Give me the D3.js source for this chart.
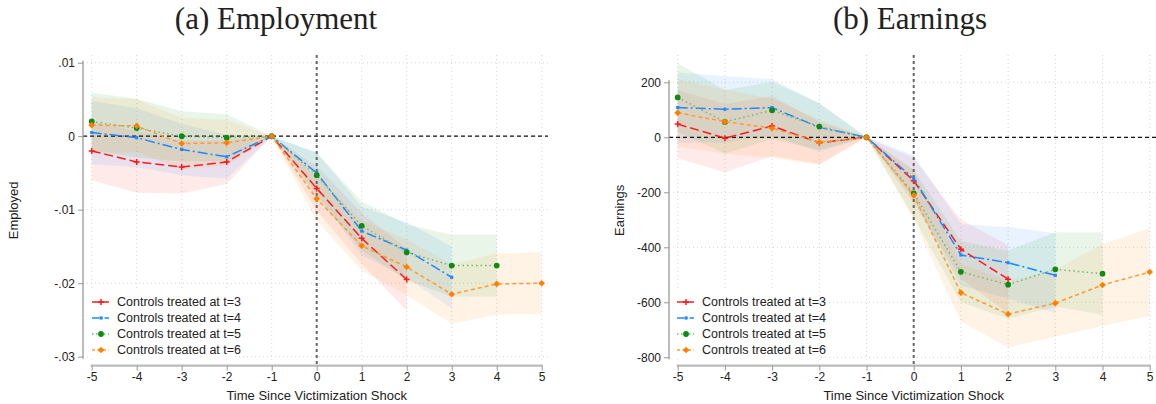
<!DOCTYPE html>
<html><head><meta charset="utf-8">
<script src="https://cdn.jsdelivr.net/npm/d3@7"></script>
<style>
body{margin:0;background:#fff;}
svg{display:block;}
text{font-family:"Liberation Sans",Arial,sans-serif;fill:#222;}
</style></head>
<body>
<svg id="chart" width="1156" height="404"></svg>
<script>
// ---------- data ----------
const years = [-5,-4,-3,-2,-1,0,1,2,3,4,5];
const seriesNames = ["Controls treated at t=3","Controls treated at t=4","Controls treated at t=5","Controls treated at t=6"];
const panelTitles = ["(a) Employment","(b) Earnings"];
const yTitles = ["Employed","Earnings"];
const xTitle = "Time Since Victimization Shock";
const xTickLabels = ["-5","-4","-3","-2","-1","0","1","2","3","4","5"];

const empTickValues = [0.01,0,-0.01,-0.02,-0.03];
const empTickLabels = [".01","0","-.01","-.02","-.03"];
const earnTickValues = [200,0,-200,-400,-600,-800];
const earnTickLabels = ["200","0","-200","-400","-600","-800"];

// Employment (estimate, lower CI, upper CI)
const empT3   = [-0.0020,-0.0035,-0.0042,-0.0035,0,-0.0071,-0.0139,-0.0195];
const empT3Lo = [-0.0060,-0.0077,-0.0078,-0.0065,0,-0.0101,-0.0174,-0.0237];
const empT3Hi = [ 0.0020, 0.0007,-0.0006,-0.0005,0,-0.0041,-0.0104,-0.0153];
const empT4   = [ 0.0005,-0.0002,-0.0018,-0.0028,0,-0.0050,-0.0129,-0.0155,-0.0192];
const empT4Lo = [-0.0038,-0.0042,-0.0053,-0.0058,0,-0.0078,-0.0162,-0.0193,-0.0234];
const empT4Hi = [ 0.0048, 0.0038, 0.0017, 0.0002,0,-0.0022,-0.0096,-0.0117,-0.0150];
const empT5   = [ 0.0020, 0.0011, 0.0000,-0.0002,0,-0.0053,-0.0122,-0.0158,-0.0176,-0.0176];
const empT5Lo = [-0.0019,-0.0029,-0.0034,-0.0034,0,-0.0083,-0.0155,-0.0196,-0.0218,-0.0218];
const empT5Hi = [ 0.0059, 0.0051, 0.0034, 0.0030,0,-0.0023,-0.0089,-0.0120,-0.0134,-0.0134];
const empT6   = [ 0.0015, 0.0014,-0.0010,-0.0009,0,-0.0085,-0.0149,-0.0178,-0.0215,-0.0201,-0.0200];
const empT6Lo = [-0.0023,-0.0022,-0.0045,-0.0040,0,-0.0115,-0.0183,-0.0216,-0.0255,-0.0243,-0.0242];
const empT6Hi = [ 0.0053, 0.0050, 0.0025, 0.0022,0,-0.0055,-0.0115,-0.0140,-0.0175,-0.0159,-0.0158];

// Earnings (estimate, lower CI, upper CI)
const earnT3   = [48,-3,41,-20,0,-158,-407,-516];
const earnT3Lo = [-76,-127,-68,-97,0,-240,-514,-640];
const earnT3Hi = [172,121,150,57,0,-76,-300,-392];
const earnT4   = [108,102,108,36,0,-150,-428,-456,-502];
const earnT4Lo = [-20,-19,5,-52,0,-225,-540,-586,-640];
const earnT4Hi = [236,223,211,124,0,-65,-316,-326,-349];
const earnT5   = [145,56,98,39,0,-204,-489,-536,-480,-496];
const earnT5Lo = [21,-60,-6,-46,0,-290,-600,-660,-615,-646];
const earnT5Hi = [269,172,202,124,0,-118,-378,-412,-345,-346];
const earnT6   = [89,57,33,-18,0,-211,-565,-643,-603,-537,-490];
const earnT6Lo = [-33,-60,-75,-100,0,-300,-670,-764,-725,-686,-649];
const earnT6Hi = [211,174,141,64,0,-122,-460,-522,-481,-388,-331];

// ---------- styles ----------
const colors = ["#ff1a1a","#1e88ff","#118a11","#ff8000"];
const lineColors = ["#ff1a1a","#1e88ff","#72b872","#ff9a33"];
const fills  = ["#ff6060","#4da6ff","#4caf50","#ffa040"];
const dashes = ["9,4","10,3,2,3","1.5,3","4,3"];
const legDashes = [null,"7,2,1.5,2","1.5,2.5","3,2.5"];
const markerTypes = ["plus","square","circle","diamond"];

const svg = d3.select("#chart");

function marker(g, type, x, y, color){
  if(type==="plus"){
    g.append("path").attr("d",`M${x-3},${y}H${x+3}M${x},${y-3}V${y+3}`)
      .attr("stroke",color).attr("stroke-width",1.5).attr("fill","none");
  } else if(type==="diamond"){
    g.append("path").attr("d", d3.symbol().type(d3.symbolSquare).size(22)())
      .attr("transform",`translate(${x},${y}) rotate(45)`).attr("fill",color);
  } else {
    const sym = type==="square"? d3.symbolSquare : d3.symbolCircle;
    const size = type==="square"? 10 : 26;
    g.append("path").attr("d", d3.symbol().type(sym).size(size)())
      .attr("transform",`translate(${x},${y})`).attr("fill",color);
  }
}

function drawPanel(p){
  const g = svg.append("g");
  const x = d3.scaleLinear().domain([-5,5]).range(p.xr);
  const y = d3.scaleLinear().domain(p.ydom).range(p.yr);
  const [pl,pr,pt,pb] = p.region;

  // grid
  g.append("g").selectAll("line").data(p.tickValues).join("line")
    .attr("x1",pl).attr("x2",pr).attr("y1",d=>y(d)).attr("y2",d=>y(d))
    .attr("stroke","#d4d4d4").attr("stroke-width",1).attr("stroke-dasharray","1,3");
  g.append("g").selectAll("line").data(years).join("line")
    .attr("x1",d=>x(d)).attr("x2",d=>x(d)).attr("y1",pt).attr("y2",pb-6)
    .attr("stroke","#d4d4d4").attr("stroke-width",1).attr("stroke-dasharray","1,3");

  // CI bands
  p.series.forEach((s,i)=>{
    const n = s.est.length;
    const pts = d3.range(n).map(k=>({x:years[k],lo:s.lo[k],hi:s.hi[k]}));
    g.append("path").datum(pts)
      .attr("d", d3.area().x(d=>x(d.x)).y0(d=>y(d.lo)).y1(d=>y(d.hi)))
      .attr("fill",fills[i]).attr("fill-opacity",0.13);
  });

  // reference lines
  g.append("line").attr("x1",pl).attr("x2",pr).attr("y1",y(0)).attr("y2",y(0))
    .attr("stroke","#111").attr("stroke-width",1.3).attr("stroke-dasharray","4,3");
  g.append("line").attr("x1",x(0)).attr("x2",x(0)).attr("y1",pt).attr("y2",pb)
    .attr("stroke","#666").attr("stroke-width",2).attr("stroke-dasharray","3,3");

  // lines + markers
  p.series.forEach((s,i)=>{
    const pts = s.est.map((v,k)=>({x:years[k],v}));
    g.append("path").datum(pts)
      .attr("d", d3.line().x(d=>x(d.x)).y(d=>y(d.v)))
      .attr("fill","none").attr("stroke",lineColors[i]).attr("stroke-width",1.5)
      .attr("stroke-dasharray",dashes[i]);
    const mg = g.append("g");
    pts.forEach(d=>marker(mg, markerTypes[i], x(d.x), y(d.v), colors[i]));
  });

  // legend
  const lg = g.append("g");
  lg.append("rect").attr("x",p.leg[0]).attr("y",p.leg[1]).attr("width",p.leg[2]).attr("height",p.leg[3]).attr("fill","#fff");
  seriesNames.forEach((nm,i)=>{
    const ly = p.leg[1]+12+i*16;
    const lx = p.leg[0]+4;
    lg.append("line").attr("x1",lx).attr("x2",lx+17).attr("y1",ly).attr("y2",ly)
      .attr("stroke",lineColors[i]).attr("stroke-width",1.5).attr("stroke-dasharray",legDashes[i]);
    marker(lg, markerTypes[i], lx+9, ly, colors[i]);
    lg.append("text").attr("x",lx+25).attr("y",ly).attr("dy","0.35em")
      .attr("font-size",12.5).text(nm);
  });

  // axes
  const yAxis = d3.axisLeft(y).tickValues(p.tickValues).tickFormat((d,i)=>p.tickLabels[i]).tickSize(5).tickPadding(3);
  const ya = g.append("g").attr("transform",`translate(${pl},0)`).call(yAxis);
  ya.select(".domain").attr("d",`M0,${y(p.ydom[1])-2}V${y(p.ydom[0])+2}`).attr("stroke","#999").attr("stroke-width",1.3);
  ya.selectAll(".tick line").attr("stroke","#999");
  ya.selectAll("text").attr("font-size",12).style("font-family","Liberation Sans, Arial, sans-serif");

  const xAxis = d3.axisBottom(x).tickValues(years).tickFormat((d,i)=>xTickLabels[i]).tickSize(5).tickPadding(2);
  const xa = g.append("g").attr("transform",`translate(0,${pb})`).call(xAxis);
  xa.select(".domain").attr("d",`M${x(-5)-1},0H${x(5)+1}`).attr("stroke","#bbb").attr("stroke-width",2.2);
  xa.selectAll(".tick line").attr("stroke","#999");
  xa.selectAll("text").attr("font-size",12).style("font-family","Liberation Sans, Arial, sans-serif");

  // titles
  g.append("text").attr("x",p.titleX).attr("y",29)
    .attr("text-anchor","middle").attr("font-size",31).style("font-family","Liberation Serif, serif")
    .attr("fill","#111").text(p.title);
  g.append("text").attr("x",x(0)).attr("y",400).attr("text-anchor","middle")
    .attr("font-size",13).text(xTitle);
  g.append("text").attr("transform",`translate(${p.yTitleX},${(pt+pb)/2}) rotate(-90)`)
    .attr("text-anchor","middle").attr("font-size",13).text(p.yTitle);
}

drawPanel({
  title: panelTitles[0], yTitle: yTitles[0], titleX: 276, yTitleX: 18,
  xr:[91.7,541.7], ydom:[-0.03,0.01], yr:[356.7,62.7],
  region:[83,548,55,365.7],
  tickValues: empTickValues, tickLabels: empTickLabels,
  leg:[88,290,146,68],
  series:[
    {est:empT3,lo:empT3Lo,hi:empT3Hi},
    {est:empT4,lo:empT4Lo,hi:empT4Hi},
    {est:empT5,lo:empT5Lo,hi:empT5Hi},
    {est:empT6,lo:empT6Lo,hi:empT6Hi}
  ]
});
drawPanel({
  title: panelTitles[1], yTitle: yTitles[1], titleX: 910, yTitleX: 624,
  xr:[677.7,1149.7], ydom:[-800,200], yr:[357.3,82.3],
  region:[669,1156,55,365.7],
  tickValues: earnTickValues, tickLabels: earnTickLabels,
  leg:[673,290,146,68],
  series:[
    {est:earnT3,lo:earnT3Lo,hi:earnT3Hi},
    {est:earnT4,lo:earnT4Lo,hi:earnT4Hi},
    {est:earnT5,lo:earnT5Lo,hi:earnT5Hi},
    {est:earnT6,lo:earnT6Lo,hi:earnT6Hi}
  ]
});
</script>
</body></html>
